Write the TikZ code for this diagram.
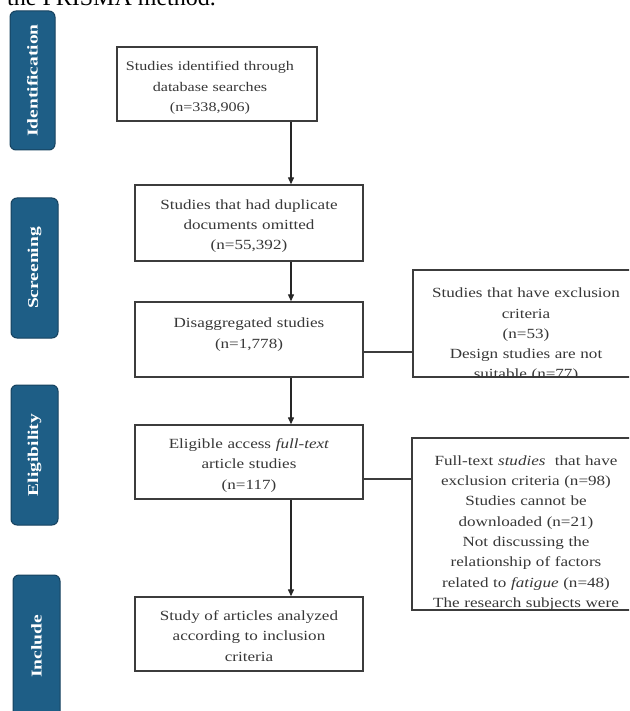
\documentclass[tikz,border=0pt]{standalone}
\usepackage{fontspec}
\setmainfont{Liberation Serif}
\newfontfamily\boxfont[FakeStretch=1.22]{Liberation Serif}
\newfontfamily\barfont[FakeStretch=1.3]{Liberation Serif}
\usetikzlibrary{arrows.meta}
\definecolor{barblue}{RGB}{30,94,134}
\definecolor{bardark}{RGB}{22,66,95}
\definecolor{txtgray}{RGB}{55,55,55}
\definecolor{edgegray}{RGB}{60,60,60}
\tikzset{
  bar/.style={draw=bardark, line width=1pt, fill=barblue, rounded corners=6pt, rotate=90,
    text=white, font=\barfont\bfseries\fontsize{15}{18}\selectfont, inner sep=0pt},
  box/.style={draw=edgegray, line width=1.4pt, fill=white, inner sep=0pt},
  boxtext/.style={align=center, text=txtgray, inner sep=0pt,
    font=\boxfont\fontsize{14}{20.3}\selectfont},
  arr/.style={draw=black!85, line width=1.3pt, -{Triangle[length=7pt,width=6pt]}},
  link/.style={draw=edgegray, line width=1.3pt},
}
\begin{document}
\begin{tikzpicture}[x=1pt,y=-1pt]
\useasboundingbox (0,0) rectangle (629,711);
\clip (0,0) rectangle (629,711);
\fill[white] (0,0) rectangle (629,711);

% title (cut off at the top)
\node[anchor=base west, inner sep=0pt, font=\fontsize{24}{28}\selectfont] (title) at (7,6) {the PRISMA method.};

% phase bars
\node[bar, minimum width=139pt, minimum height=45pt] (idbar) at (32.5,80.5) {Identification};
\node[bar, minimum width=140pt, minimum height=47pt] (scbar) at (34.5,268) {Screening};
\node[bar, minimum width=140pt, minimum height=47pt] (elbar) at (34.5,455) {Eligibility};
\node[bar, minimum width=143pt, minimum height=47pt] (inbar) at (36.5,646.5) {Include};

% main boxes
\node[box, minimum width=200pt, minimum height=74pt] (b1) at (217,84) {};
\node[boxtext, text width=195pt, font=\boxfont\fontsize{13.2}{20.3}\selectfont] (b1t) at (210,88) {Studies identified through\\database searches\\(n=338,906)};

\node[box, minimum width=228pt, minimum height=76pt] (b2) at (249,223) {};
\node[boxtext, text width=220pt] (b2t) at (249,226) {Studies that had duplicate\\documents omitted\\(n=55,392)};

\node[box, minimum width=228pt, minimum height=75pt] (b3) at (249,339.5) {};
\node[boxtext, text width=220pt] (b3t) at (249,334.5) {Disaggregated studies\\(n=1,778)};

\node[box, minimum width=228pt, minimum height=74pt] (b4) at (249,462) {};
\node[boxtext, text width=220pt] (b4t) at (249,465.5) {Eligible access \textit{full-text}\\article studies\\(n=117)};

\node[box, minimum width=228pt, minimum height=74pt] (b5) at (249,634) {};
\node[boxtext, text width=220pt] (b5t) at (249,636) {Study of articles analyzed\\according to inclusion\\criteria};

% right boxes (text cut by the box)
\node[box, minimum width=226pt, minimum height=107pt] (r1) at (526,323.5) {};
\begin{scope}
  \clip (r1.north west) rectangle (r1.south east);
  \node[boxtext, text width=220pt] (r1t) at (526,335) {Studies that have exclusion\\criteria\\(n=53)\\Design studies are not\\suitable (n=77)};
\end{scope}

\node[box, minimum width=227pt, minimum height=172pt] (r2) at (525.5,524) {};
\begin{scope}
  \clip (r2.north west) rectangle (r2.south east);
  \node[boxtext, text width=220pt] (r2t) at (526,533) {Full-text \textit{studies}\ \ that have\\exclusion criteria (n=98)\\Studies cannot be\\downloaded (n=21)\\Not discussing the\\relationship of factors\\related to \textit{fatigue} (n=48)\\The research subjects were};
\end{scope}

% connectors
\coordinate (ax) at (291,0);
\coordinate (j1) at (0,352);
\coordinate (j2) at (0,479);
\draw[arr] (b1.south -| ax) -- (b2.north -| ax);
\draw[arr] (b2.south -| ax) -- (b3.north -| ax);
\draw[arr] (b3.south -| ax) -- (b4.north -| ax);
\draw[arr] (b4.south -| ax) -- (b5.north -| ax);
\draw[link] (b3.east |- j1) -- (r1.west |- j1);
\draw[link] (b4.east |- j2) -- (r2.west |- j2);
\end{tikzpicture}
\end{document}
